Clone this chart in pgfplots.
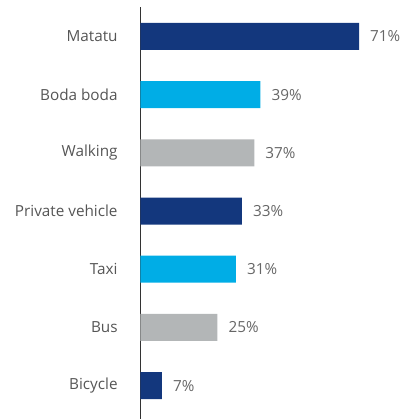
\documentclass[border=0pt]{standalone}
\usepackage{fontspec}
\setmainfont{Open Sans}
\usepackage{xcolor}
\usepackage{pgfplots}
\pgfplotsset{compat=1.18}
\definecolor{barnavy}{HTML}{13377D}
\definecolor{barcyan}{HTML}{00ADE6}
\definecolor{bargray}{HTML}{B3B6B7}
\definecolor{labelgray}{HTML}{555555}
\definecolor{valuegray}{HTML}{666666}

\begin{document}
\begin{tikzpicture}[x=1pt,y=1pt]
\path (0,0) rectangle (403,419);
\begin{axis}[
  at={(140.5pt,0pt)}, anchor=south west,
  scale only axis,
  width=262pt, height=412pt,
  xbar,
  bar width=27pt,
  bar shift=0pt,
  xmin=0, xmax=85,
  ymin=-0.567, ymax=6.506,
  axis x line=none,
  axis y line*=left,
  y axis line style={draw=black!80, line width=0.8pt},
  ytick={0,1,2,3,4,5,6},
  yticklabels={Bicycle,Bus,Taxi,Private vehicle,Walking,Boda boda,Matatu},
  ytick style={draw=none},
  yticklabel style={font=\fontsize{15.3}{18}\selectfont, text=labelgray},
  yticklabel shift=15pt,
  /pgf/number format/assume math mode=true,
  nodes near coords={\pgfmathprintnumber{\pgfplotspointmeta}\%},
  every node near coord/.append style={font=\fontsize{15.3}{18}\selectfont, text=valuegray, inner sep=0pt, xshift=11pt, anchor=west},
  clip=false,
]
\addplot[fill=barnavy, draw=none] coordinates {(71,6) (33,3) (7,0)};
\addplot[fill=barcyan, draw=none] coordinates {(39,5) (31,2)};
\addplot[fill=bargray, draw=none] coordinates {(37,4) (25,1)};
\end{axis}
\end{tikzpicture}
\end{document}
